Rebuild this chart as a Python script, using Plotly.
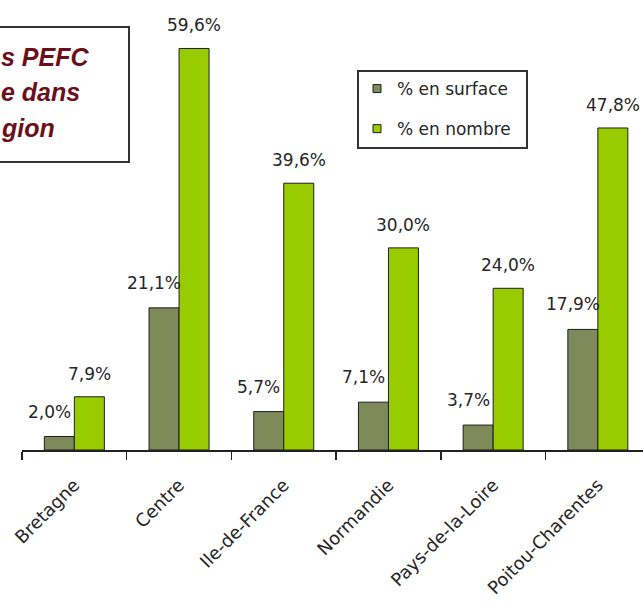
import plotly.graph_objects as go

# ---- data ----
regions = ["Bretagne", "Centre", "Ile-de-France", "Normandie", "Pays-de-la-Loire", "Poitou-Charentes"]
pct_surface = [2.0, 21.1, 5.7, 7.1, 3.7, 17.9]
pct_nombre = [7.9, 59.6, 39.6, 30.0, 24.0, 47.8]
series_names = ["% en surface", "% en nombre"]
title_fragments = ["s PEFC", "e dans", "gion"]

# ---- style ----
W, H = 643, 602
ML, MR, MT, MB = 22, 0, 0, 152
PW, PH = W - ML - MR, H - MT - MB
COL_SURF = "#7E8A5A"
COL_NOMB = "#99CC00"
EDGE = "#1E1E1E"
TXT = "#262626"
FONT = "DejaVu Sans"
TITLE_COL = "#6B0F1A"


def px_x(p):
    return (p - ML) / PW


def px_y(p):
    return 1 - (p - MT) / PH


def fmt(v):
    return f"{v:.1f}%".replace(".", ",")


fig = go.Figure()
for vals, name, col, grp in [(pct_surface, series_names[0], COL_SURF, "a"),
                             (pct_nombre, series_names[1], COL_NOMB, "b")]:
    fig.add_trace(go.Bar(
        x=regions, y=vals, name=name, legendgroup=grp, showlegend=False,
        marker=dict(color=col, line=dict(color=EDGE, width=1)),
    ))
    # legend entry with a small square swatch
    fig.add_trace(go.Scatter(
        x=[None], y=[None], name=name, legendgroup=grp, mode="markers",
        marker=dict(symbol="square", size=8, color=col, line=dict(color=EDGE, width=1)),
    ))

annotations = []
for r, v in zip(regions, pct_surface):
    annotations.append(dict(x=r, y=v, xref="x", yref="y", text=fmt(v), showarrow=False,
                            xshift=-25, yshift=25, yanchor="middle",
                            font=dict(family=FONT, size=17, color=TXT)))
for r, v in zip(regions, pct_nombre):
    annotations.append(dict(x=r, y=v, xref="x", yref="y", text=fmt(v), showarrow=False,
                            xshift=15, yshift=23, yanchor="middle",
                            font=dict(family=FONT, size=17, color=TXT)))

# title box fragments (cropped at the left edge)
for frag, cy in zip(title_fragments, [57, 92, 128]):
    annotations.append(dict(x=px_x(-1), y=px_y(cy), xref="paper", yref="paper",
                            text=f"<b><i>{frag}</i></b>",
                            showarrow=False, xanchor="left", yanchor="middle",
                            font=dict(family="Liberation Sans", size=25, color=TITLE_COL)))

shapes = [
    dict(type="rect", xref="paper", yref="paper",
         x0=px_x(-5), x1=px_x(129), y0=px_y(162), y1=px_y(27),
         line=dict(color="#333333", width=2), fillcolor="rgba(0,0,0,0)", layer="above"),
    dict(type="rect", xref="paper", yref="paper",
         x0=px_x(358), x1=px_x(527), y0=px_y(148), y1=px_y(71),
         line=dict(color="#333333", width=2), fillcolor="rgba(0,0,0,0)", layer="above"),
]

fig.update_layout(
    width=W, height=H, autosize=False,
    margin=dict(l=ML, r=MR, t=MT, b=MB, pad=0),
    paper_bgcolor="white", plot_bgcolor="white",
    barmode="group", bargap=0.427, bargroupgap=0,
    showlegend=True,
    legend=dict(x=px_x(357), y=px_y(71), xanchor="left", yanchor="top",
                font=dict(family=FONT, size=17, color=TXT),
                bgcolor="rgba(0,0,0,0)", borderwidth=0,
                traceorder="grouped", tracegroupgap=15, itemwidth=30),
    annotations=annotations,
    shapes=shapes,
    xaxis=dict(range=[-0.5, -0.5 + PW / 104.7], showline=True, linecolor="#222222", linewidth=1.5,
               ticks="outside", ticklen=8, tickcolor="#222222", tickwidth=1.5,
               tickson="boundaries", tickangle=-45, ticklabelstandoff=16,
               tickfont=dict(family=FONT, size=18, color=TXT),
               showgrid=False, zeroline=False, fixedrange=True),
    yaxis=dict(range=[0, PH / 6.737], visible=False, showgrid=False, zeroline=False,
               fixedrange=True),
)

fig.write_html("out.html", config={"displayModeBar": False, "staticPlot": True},
               post_script="document.body.style.margin='0';document.body.style.overflow='hidden';")
